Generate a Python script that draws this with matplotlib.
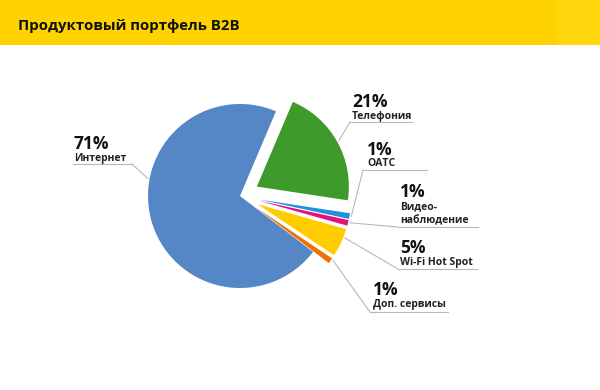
import matplotlib.pyplot as plt
from matplotlib.patches import Rectangle
import numpy as np

plt.rcParams['font.family'] = ['Open Sans', 'DejaVu Sans']

title = 'Продуктовый портфель B2B'
names = ['Телефония', 'ОАТС', 'Видео-\nнаблюдение', 'Wi-Fi Hot Spot', 'Доп. сервисы', 'Интернет']
shares = [21, 1, 1, 5, 1, 71]
colors = ['#3E9A2A', '#1F8FE0', '#E3137C', '#FFCC00', '#EE7203', '#5587C7']
pulled = [True, True, True, True, True, False]

# label layout in pixels: x, percent baseline, name baseline, underline y, underline x0, x1, anchor frac
layout = [
    (352, 107, 119, 122, 350, 412, 0.5),
    (367, 155, 166, 170, 363, 427, 0.5),
    (400, 197, 209, 227, 398, 478, 0.6),
    (400, 253, 265, 269, 398, 477, 0.7),
    (373, 295, 307, 312, 370, 448, 0.8),
    (74, 149, 161, 164, 73, 132, 0.40),
]

H = 390
R = 92
fig = plt.figure(figsize=(6, 3.9), dpi=100)
ax = fig.add_axes([0, 0, 1, 1])

# header band
ax.add_patch(Rectangle((0, H - 45), 557, 45, color='#FFD300', lw=0, zorder=0))
ax.add_patch(Rectangle((557, H - 45), 43, 45, color='#FFD70C', lw=0, zorder=0))
ax.text(18, H - 30, title, fontsize=10.8, fontweight='bold', color='#111111', va='baseline')

explode = [0.21 * R if p else 0 for p in pulled]
wedges, _ = ax.pie(shares, colors=colors, explode=explode, startangle=67, counterclock=False,
                   radius=R, center=(240, H - 196), wedgeprops=dict(linewidth=0))

for w, name, share, (x, pb, nb, ly, x0, x1, fr) in zip(wedges, names, shares, layout):
    ax.text(x, H - pb, f'{share}%', fontsize=12.5, fontweight='bold', color='#111111', va='baseline')
    lines = name.split('\n')
    for k, ln in enumerate(lines):
        base = nb + k * 14 if len(lines) > 1 else nb
        ax.text(x, H - base, ln, fontsize=7.5, fontweight='bold', color='#222222', va='baseline')
    ang = np.radians(w.theta1 + fr * (w.theta2 - w.theta1))
    cx, cy = w.center
    axp = cx + w.r * 1.02 * np.cos(ang)
    ayp = cy + w.r * 1.02 * np.sin(ang)
    ex = x1 if x1 < 240 else x0
    ax.plot([x0, x1], [H - ly, H - ly], color='#B8B8B8', lw=0.8)
    ax.plot([ex, axp], [H - ly, ayp], color='#B8B8B8', lw=0.8)

ax.set_xlim(0, 600)
ax.set_ylim(0, H)
ax.set_aspect('auto')
ax.axis('off')

fig.savefig('out.png', dpi=100)
